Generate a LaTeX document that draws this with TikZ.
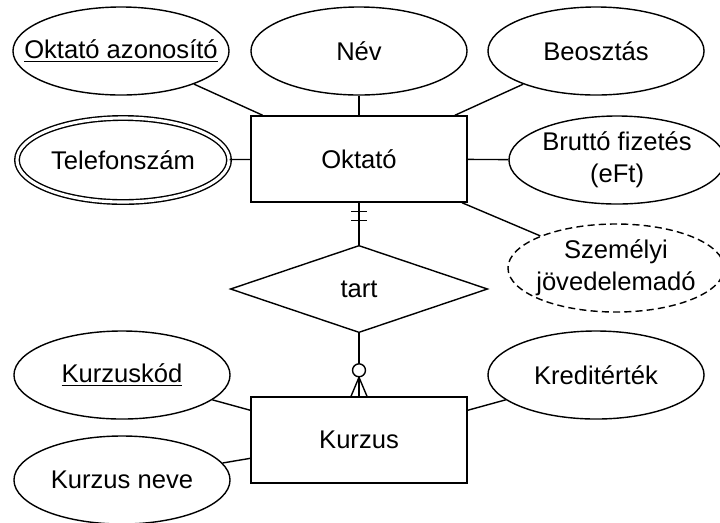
\documentclass[tikz,border=0pt]{standalone}
\usepackage{fontspec}
\setmainfont{Liberation Sans}
\usetikzlibrary{shapes.geometric,calc}

% text box of zero width, so the ellipse keeps its own size
\newcommand{\nw}[1]{\makebox[0pt]{#1}}

\tikzset{
  attr/.style={ellipse, draw, minimum width=5.4cm, minimum height=2.2cm, inner sep=0pt},
  ent/.style={rectangle, draw, minimum width=5.4cm, minimum height=2.15cm},
  rel/.style={diamond, draw, minimum width=6.43cm, minimum height=2.18cm, inner sep=0pt}
}

\begin{document}
\begin{tikzpicture}[x=0.025cm, y=-0.025cm, line width=1pt, font=\fontsize{18.2}{22.5}\selectfont]
\useasboundingbox (0,0) rectangle (720,522);

% entities and relationship
\node (okt) [ent] at (359,159) {Oktató};
\node (tart) [rel] at (359,289) {tart};
\node (kurz) [ent] at (359,440) {Kurzus};

% attributes of Oktató
\node (oaz) [attr] at (121,51) {\nw{\underline{Oktató azonosító}}};
\node (nev) [attr] at (359,51) {\nw{Név}};
\node (beo) [attr] at (596,51) {\nw{Beosztás}};
\node (tel) [attr, double, double distance=2.2pt, minimum width=5.3cm, minimum height=2.1cm] at (123,160) {\nw{Telefonszám}};
\node (bru) [attr, align=center] at (617,160) {\nw{Bruttó fizetés}\\\nw{(eFt)}};
\node (szja) [attr, dash pattern=on 5pt off 3pt, align=center] at (616,268) {\nw{Személyi}\\\nw{jövedelemadó}};

% attributes of Kurzus
\node (kkod) [attr] at (122,375) {\nw{\underline{Kurzuskód}}};
\node (kneve) [attr] at (122,480) {\nw{Kurzus neve}};
\node (kred) [attr] at (596,375) {\nw{Kreditérték}};

\foreach \a in {oaz,nev,beo,tel,bru,szja} {
\draw (\a) -- (okt);
}
\foreach \a in {kkod,kneve,kred} {
\draw (\a) -- (kurz);
}

\draw (okt) -- (tart);
\draw (tart) -- (kurz);

% exactly one
\draw ($(okt.south)+(-8,9)$) -- ++(16,0);
\draw ($(okt.south)+(-8,18)$) -- ++(16,0);
% zero or many
\draw ($(kurz.north)+(-8,0)$) -- ($(kurz.north)+(0,-19)$) -- ($(kurz.north)+(8,0)$);
\draw[fill=white] ($(kurz.north)+(0,-26)$) circle[radius=4.6pt];
\end{tikzpicture}
\end{document}
